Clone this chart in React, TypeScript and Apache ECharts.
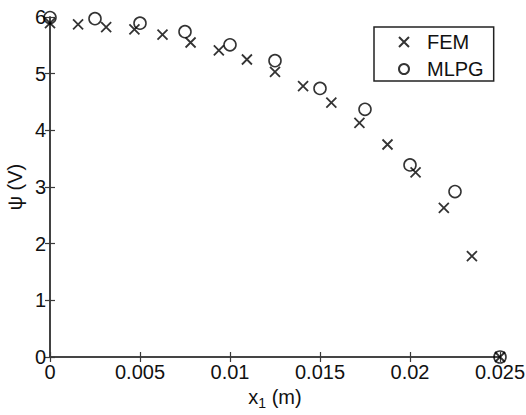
import React, { useEffect, useRef } from "react";
import * as echarts from "echarts";

const femX = [0, 0.00156, 0.00312, 0.00469, 0.00625, 0.00781, 0.00938, 0.01094, 0.0125, 0.01406, 0.01563, 0.01719, 0.01875, 0.02031, 0.02188, 0.02344, 0.025];
const femY = [5.89, 5.87, 5.82, 5.78, 5.69, 5.55, 5.41, 5.25, 5.03, 4.78, 4.49, 4.13, 3.75, 3.26, 2.63, 1.78, 0];
const mlpgX = [0, 0.0025, 0.005, 0.0075, 0.01, 0.0125, 0.015, 0.0175, 0.02, 0.0225, 0.025];
const mlpgY = [5.99, 5.97, 5.89, 5.74, 5.51, 5.23, 4.74, 4.37, 3.39, 2.92, 0];
const xTickLabels = ["0", "0.005", "0.01", "0.015", "0.02", "0.025"];
const yTickLabels = ["0", "1", "2", "3", "4", "5", "6"];

const FONT = "Liberation Sans, Arial, Helvetica, sans-serif";
const AXIS_COLOR = "#3a3a3a";
const CROSS = "path://M0,0L10,10M10,0L0,10";

export default function App() {
  const ref = useRef<HTMLDivElement>(null);
  useEffect(() => {
    if (!ref.current) return;
    const chart = echarts.init(ref.current, undefined, { renderer: "svg" });
    const axisLine = { show: true, lineStyle: { color: AXIS_COLOR, width: 1.6 } };
    const axisTick = { show: true, inside: true, length: 5, lineStyle: { color: AXIS_COLOR, width: 1.2 } };
    chart.setOption({
      animation: false,
      backgroundColor: "#fff",
      grid: { left: 50, top: 17, right: 26, bottom: 58, containLabel: false, outerBoundsMode: "none" },
      xAxis: [
        {
          type: "value",
          min: 0,
          max: 0.025,
          interval: 0.005,
          position: "bottom",
          axisLine,
          axisTick,
          splitLine: { show: false },
          axisLabel: {
            color: "#111",
            fontFamily: FONT,
            fontSize: 20,
            margin: 5,
            hideOverlap: false,
            formatter: (v: number) => xTickLabels[Math.round(v / 0.005)] ?? "",
          },
          name: "{a|x}{b|1}{a| (m)}",
          nameLocation: "middle",
          nameGap: 27,
          nameMoveOverlap: false,
          nameTextStyle: {
            rich: {
              a: { fontFamily: FONT, fontSize: 20, color: "#111" },
              b: { fontFamily: FONT, fontSize: 14, color: "#111", padding: [12, 0, 0, 0] },
            },
          },
        },
        {
          type: "value",
          min: 0,
          max: 0.025,
          interval: 0.005,
          position: "top",
          axisLine,
          axisTick,
          splitLine: { show: false },
          axisLabel: { show: false },
        },
      ],
      yAxis: [
        {
          type: "value",
          min: 0,
          max: 6,
          interval: 1,
          position: "left",
          axisLine,
          axisTick,
          splitLine: { show: false },
          axisLabel: {
            color: "#111",
            fontFamily: FONT,
            fontSize: 20,
            margin: 4,
            formatter: (v: number) => yTickLabels[Math.round(v)] ?? "",
          },
          name: "ψ (V)",
          nameLocation: "middle",
          nameRotate: 90,
          nameGap: 25,
          nameMoveOverlap: false,
          nameTextStyle: { fontFamily: FONT, fontSize: 20, color: "#111" },
        },
        {
          type: "value",
          min: 0,
          max: 6,
          interval: 1,
          position: "right",
          axisLine,
          axisTick,
          splitLine: { show: false },
          axisLabel: { show: false },
        },
      ],
      legend: {
        orient: "vertical",
        left: 374,
        top: 27,
        padding: [5, 10, 2, 24],
        itemGap: 7,
        itemWidth: 10,
        itemHeight: 10,
        borderColor: "#222",
        borderWidth: 1.5,
        backgroundColor: "#fff",
        textStyle: { fontFamily: FONT, fontSize: 20, lineHeight: 20, color: "#111", padding: [0, 0, 0, 13] },
        data: ["FEM", "MLPG"],
      },
      series: [
        {
          name: "FEM",
          type: "scatter",
          symbol: CROSS,
          symbolSize: 10,
          clip: false,
          itemStyle: { color: "transparent", borderColor: "#000", borderWidth: 1.8 },
          data: femX.map((x, i) => [x, femY[i]]),
          z: 3,
        },
        {
          name: "MLPG",
          type: "scatter",
          symbol: "circle",
          symbolSize: 12,
          clip: false,
          itemStyle: { color: "transparent", borderColor: "#000", borderWidth: 1.6 },
          data: mlpgX.map((x, i) => [x, mlpgY[i]]),
          z: 3,
        },
      ],
    });
    return () => chart.dispose();
  }, []);
  return (
    <div
      ref={ref}
      style={{ position: "fixed", left: 0, top: 0, width: 526, height: 415, background: "#fff" }}
    />
  );
}
